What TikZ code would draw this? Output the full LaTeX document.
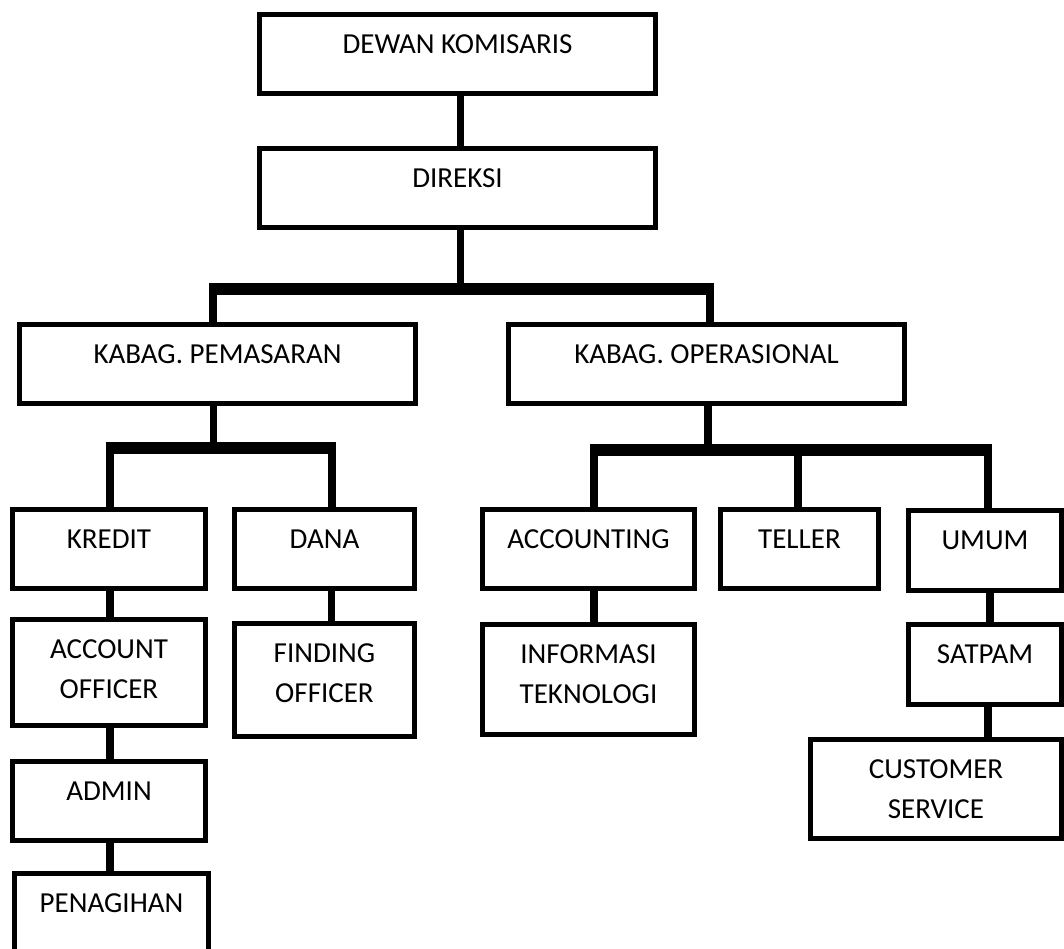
\documentclass[tikz,border=0pt]{standalone}
\usepackage{fontspec}
\setmainfont{Carlito}
\definecolor{shade}{RGB}{166,166,166}
\begin{document}
\begin{tikzpicture}[x=1pt,y=-1pt,
  box/.style={draw=black, line width=5pt, inner sep=0pt},
  txt/.style={anchor=north, yshift=-22.5pt, inner sep=0pt, align=center, font=\fontsize{29}{40}\selectfont},
  conn/.style={line width=7.5pt, black},
  bar/.style={line width=8pt, black},
  shadowline/.style={line width=4pt, shade}]
\fill[white] (0,0) rectangle (1064,949);
\useasboundingbox (0,0) rectangle (1064,949);

% boxes
\node[box, minimum width=396pt, minimum height=79pt, label={[txt]north:DEWAN KOMISARIS}] (dk) at (457.5,54) {};
\node[box, minimum width=396pt, minimum height=79pt, label={[txt]north:DIREKSI}] (dir) at (457.5,188) {};
\node[box, minimum width=396pt, minimum height=79pt, label={[txt]north:KABAG. PEMASARAN}] (kp) at (217.5,364) {};
\node[box, minimum width=396pt, minimum height=79pt, label={[txt]north:KABAG. OPERASIONAL}] (ko) at (706.5,364) {};
\node[box, minimum width=193pt, minimum height=79pt, label={[txt]north:KREDIT}] (kr) at (109,549) {};
\node[box, minimum width=180pt, minimum height=79pt, label={[txt]north:DANA}] (da) at (324.5,549) {};
\node[box, minimum width=212pt, minimum height=79pt, label={[txt]north:ACCOUNTING}] (ac) at (588.5,549) {};
\node[box, minimum width=158pt, minimum height=79pt, label={[txt]north:TELLER}] (te) at (799.5,549) {};
\node[box, minimum width=153pt, minimum height=80pt, label={[txt]north:UMUM}] (um) at (985,550.5) {};
\node[box, minimum width=193pt, minimum height=106pt, label={[txt]north:{ACCOUNT\\OFFICER}}] (ao) at (109,672.5) {};
\node[box, minimum width=180pt, minimum height=113pt, label={[txt]north:{FINDING\\OFFICER}}] (fo) at (324.5,680) {};
\node[box, minimum width=212pt, minimum height=110pt, label={[txt]north:{INFORMASI\\TEKNOLOGI}}] (it) at (588.5,679.5) {};
\node[box, minimum width=153pt, minimum height=80pt, label={[txt]north:SATPAM}] (sa) at (985,664.5) {};
\node[box, minimum width=251pt, minimum height=99pt, label={[txt]north:{CUSTOMER\\SERVICE}}] (cs) at (936,789) {};
\node[box, minimum width=193pt, minimum height=79pt, label={[txt]north:ADMIN}] (ad) at (109,801) {};
\node[box, minimum width=194pt, minimum height=84pt, label={[txt]north:PENAGIHAN}] (pe) at (111.5,915.5) {};

% top level
\draw[conn] ([xshift=3pt]dk.south) -- ([xshift=3pt]dir.north);
\coordinate (tb) at (460.5,287);
\draw[shadowline] (216,293) -- (706,293);
\draw[conn] ([xshift=3pt]dir.south) -- (tb);
\draw[bar] ([xshift=-4.5pt]kp.north) |- (tb) -| ([xshift=3.5pt]ko.north);

% pemasaran
\coordinate (pb) at (213.5,446);
\draw[shadowline] (114,452) -- (328,452);
\draw[conn] ([xshift=-4pt]kp.south) -- (pb);
\draw[bar] ([xshift=0.5pt]kr.north) |- (pb) -| ([xshift=7pt]da.north);

% operasional
\coordinate (ob) at (708,447.5);
\draw[shadowline] (598,453.5) -- (984,453.5);
\draw[conn] ([xshift=1.5pt]ko.south) -- (ob);
\draw[bar] ([xshift=5.5pt]ac.north) |- (ob) -| ([xshift=3pt]um.north);
\draw[bar] ([xshift=-1.5pt]te.north) -- ([xshift=-1.5pt]te.north |- ob);

% chains
\draw[conn] ([xshift=1pt]kr.south) -- ([xshift=1pt]ao.north);
\draw[conn] ([xshift=1pt]ao.south) -- ([xshift=1pt]ad.north);
\draw[conn] ([xshift=1pt]ad.south) -- ([xshift=1pt]ad.south |- pe.north);
\draw[conn] ([xshift=7pt]da.south) -- ([xshift=7pt]fo.north);
\draw[conn] ([xshift=5.5pt]ac.south) -- ([xshift=5.5pt]it.north);
\draw[conn] ([xshift=5pt]um.south) -- ([xshift=5pt]sa.north);
\draw[conn] ([xshift=3pt]sa.south) -- ([xshift=3pt]sa.south |- cs.north);
\end{tikzpicture}
\end{document}
